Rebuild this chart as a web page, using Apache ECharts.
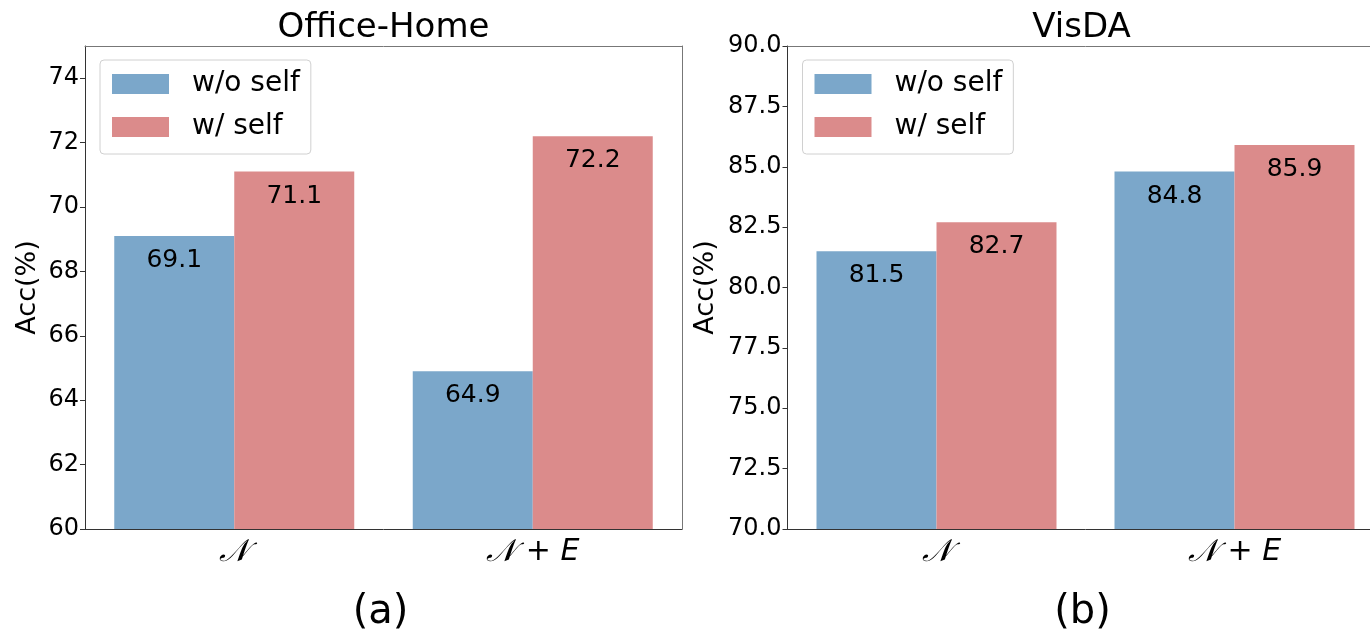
<!DOCTYPE html>
<html>
<head>
<meta charset="utf-8">
<script src="https://cdn.jsdelivr.net/npm/echarts@6/dist/echarts.min.js"></script>
<style>
  html, body { margin: 0; padding: 0; background: #fff; overflow: hidden; }
  /* the drawing is a bit wider than the window so the right panel runs off the edge */
  #chart { width: 1384px; height: 637px; }
</style>
</head>
<body>
<div id="chart"></div>
<script>
// Accuracy with and without the self term, on two benchmarks
const categories = ['𝒩', '𝒩 + E'];
const seriesNames = ['w/o self', 'w/ self'];
const officeHomeWithout = [69.1, 64.9];
const officeHomeWith = [71.1, 72.2];
const visdaWithout = [81.5, 84.8];
const visdaWith = [82.7, 85.9];
const panelTitles = ['Office-Home', 'VisDA'];
const panelCaptions = ['(a)', '(b)'];
const officeHomeAxis = { min: 60, max: 75, interval: 2 };
const visdaAxis = { min: 70, max: 90, interval: 2.5 };

const FONT = 'DejaVu Sans';
const BLUE = '#7BA7CA';
const RED = '#DB8B8B';
const AXIS = '#333333';
const FRAME = '#777777';
const W = 1384, H = 637;

// panel geometry
const panels = [
  { left: 85, top: 46, right: W - 682, bottom: H - 529 },
  { left: 787.5, top: 46, right: W - 1383.5, bottom: H - 529 }
];
const panelCenter = p => (p.left + (W - p.right)) / 2;

function catLabel(v) {
  const parts = v.split(' + ');
  if (parts.length === 1) return '{n|' + parts[0] + '}';
  return '{n|' + parts[0] + '}{op| + }{e|' + parts[1] + '}';
}

const chart = echarts.init(document.getElementById('chart'), null, { renderer: 'canvas' });

const grids = panels.map(p => ({
  left: p.left, top: p.top, right: p.right, bottom: p.bottom, show: false
}));

const xAxes = [];
panels.forEach((p, i) => {
  xAxes.push({
    type: 'category',
    gridIndex: i,
    data: categories,
    boundaryGap: true,
    axisLine: { lineStyle: { color: AXIS, width: 1 } },
    axisTick: { alignWithLabel: true, length: 5, lineStyle: { color: AXIS } },
    axisLabel: {
      margin: 8,
      formatter: catLabel,
      rich: {
        n: { fontFamily: 'DejaVu Serif', fontStyle: 'italic', fontSize: 31, color: '#000' },
        op: { fontFamily: FONT, fontSize: 30, color: '#000' },
        e: { fontFamily: FONT, fontStyle: 'italic', fontSize: 30, color: '#000' }
      }
    }
  });
  // top edge of the frame
  xAxes.push({
    type: 'category', gridIndex: i, position: 'top', data: categories,
    axisLine: { lineStyle: { color: FRAME, width: 1 } },
    axisTick: { show: false }, axisLabel: { show: false }
  });
});

const axisRanges = [officeHomeAxis, visdaAxis];
const yAxes = [];
axisRanges.forEach((r, i) => {
  yAxes.push({
    type: 'value',
    gridIndex: i,
    min: r.min, max: r.max, interval: r.interval,
    name: 'Acc(%)',
    nameLocation: 'middle',
    nameRotate: 90,
    nameGap: i === 0 ? 44 : 68,
    nameTextStyle: { fontFamily: FONT, fontSize: 27, color: '#000' },
    splitLine: { show: false },
    axisLine: { show: true, lineStyle: { color: AXIS, width: 1 } },
    axisTick: { show: true, length: 5, lineStyle: { color: AXIS } },
    axisLabel: {
      showMaxLabel: i === 1,
      margin: 6,
      fontFamily: FONT, fontSize: 24, color: '#000',
      formatter: v => (r.interval % 1 === 0 ? String(v) : v.toFixed(1))
    }
  });
  // right edge of the frame
  yAxes.push({
    type: 'value', gridIndex: i, position: 'right',
    min: r.min, max: r.max, interval: r.interval,
    splitLine: { show: false },
    axisLine: { show: true, lineStyle: { color: FRAME, width: 1 } },
    axisTick: { show: false }, axisLabel: { show: false }
  });
});

function barSeries(name, data, color, idx) {
  return {
    name: name,
    type: 'bar',
    xAxisIndex: idx * 2, yAxisIndex: idx * 2,
    data: data,
    barWidth: 120,
    barGap: '0%',
    itemStyle: { color: color },
    label: {
      show: true,
      position: 'insideTop',
      distance: 12,
      fontFamily: FONT, fontSize: 25, color: '#000',
      formatter: p => p.value.toFixed(1)
    },
    emphasis: { disabled: true }
  };
}

const series = [
  barSeries(seriesNames[0], officeHomeWithout, BLUE, 0),
  barSeries(seriesNames[1], officeHomeWith, RED, 0),
  barSeries(seriesNames[0], visdaWithout, BLUE, 1),
  barSeries(seriesNames[1], visdaWith, RED, 1)
];

const legends = panels.map(p => ({
  orient: 'vertical',
  left: p.left + 15,
  top: 60,
  data: seriesNames.map(n => ({ name: n, icon: 'rect' })),
  itemWidth: 57,
  itemHeight: 20,
  itemGap: 15,
  padding: [10, 11, 13, 12],
  backgroundColor: '#fff',
  borderColor: '#d0d0d0',
  borderWidth: 1,
  borderRadius: 4,
  selectedMode: false,
  textStyle: { fontFamily: FONT, fontSize: 28, lineHeight: 27, color: '#000', padding: [0, 0, 0, 18] }
}));

const graphics = [];
panels.forEach((p, i) => {
  graphics.push({
    type: 'text',
    x: panelCenter(p) - (i === 1 ? 4 : 0), y: 28,
    style: { text: panelTitles[i], fontFamily: FONT, fontSize: 34, fill: '#000',
             align: 'center', verticalAlign: 'middle' }
  });
  graphics.push({
    type: 'text',
    x: panelCenter(p) - 3, y: 613,
    style: { text: panelCaptions[i], fontFamily: FONT, fontSize: 40, fill: '#000',
             align: 'center', verticalAlign: 'middle' }
  });
});

chart.setOption({
  animation: false,
  backgroundColor: '#fff',
  grid: grids,
  xAxis: xAxes,
  yAxis: yAxes,
  legend: legends,
  series: series,
  graphic: graphics
});
</script>
</body>
</html>
